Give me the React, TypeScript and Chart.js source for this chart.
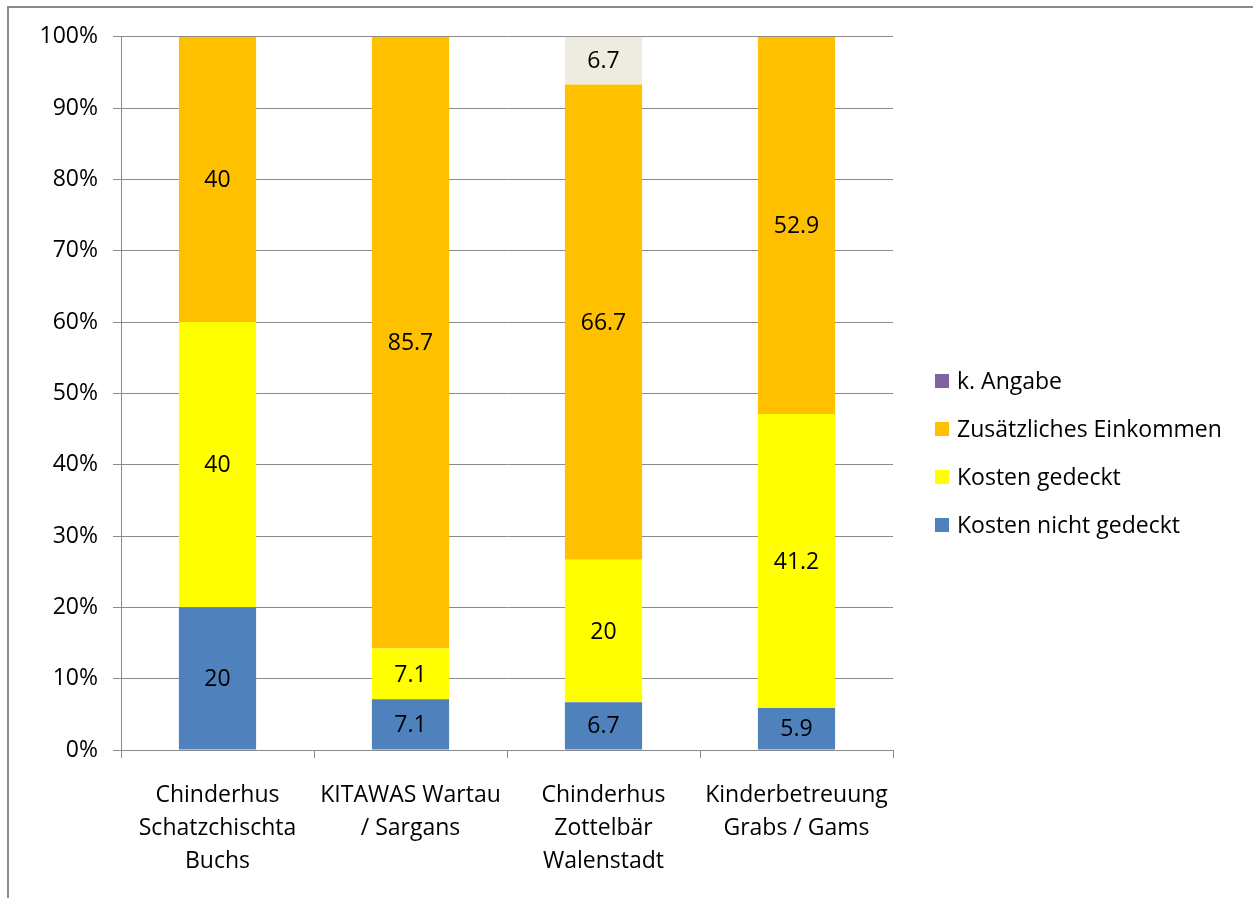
import React, { useEffect, useRef } from "react";
import { Chart, registerables } from "chart.js";

Chart.register(...registerables);

const categories: string[][] = [
  ["Chinderhus", "Schatzchischta", "Buchs"],
  ["KITAWAS Wartau", "/ Sargans"],
  ["Chinderhus", "Zottelbär", "Walenstadt"],
  ["Kinderbetreuung", "Grabs / Gams"],
];

const kostenNichtGedeckt = [20, 7.1, 6.7, 5.9];
const kostenGedeckt = [40, 7.1, 20, 41.2];
const zusaetzlichesEinkommen = [40, 85.7, 66.7, 52.9];
const keineAngabe = [0, 0, 6.7, 0];

const yTicks = [0, 10, 20, 30, 40, 50, 60, 70, 80, 90, 100];

const FONT = "'Open Sans', sans-serif";
const FS = 23;
const GRAY = "#8a8a8a";

const seriesRaw = [
  { label: "Kosten nicht gedeckt", data: kostenNichtGedeckt, color: "#4F81BD", legend: "#4F81BD" },
  { label: "Kosten gedeckt", data: kostenGedeckt, color: "#FFFF00", legend: "#FFFF00" },
  { label: "Zusätzliches Einkommen", data: zusaetzlichesEinkommen, color: "#FFC000", legend: "#FFC000" },
  { label: "k. Angabe", data: keineAngabe, color: "#EEECE1", legend: "#8064A2" },
];

const totals = categories.map((_, i) => seriesRaw.reduce((s, d) => s + d.data[i], 0));

const labelPlugin = {
  id: "segLabels",
  afterDatasetsDraw(chart: any) {
    const ctx = chart.ctx;
    ctx.save();
    ctx.font = `${FS}px ${FONT}`;
    ctx.fillStyle = "#000";
    ctx.textAlign = "center";
    ctx.textBaseline = "middle";
    chart.data.datasets.forEach((ds: any, di: number) => {
      const meta = chart.getDatasetMeta(di);
      meta.data.forEach((el: any, i: number) => {
        const v = ds.rawValues[i];
        if (!v) return;
        ctx.fillText(String(v), el.x, (el.y + el.base) / 2 + 1);
      });
    });
    ctx.restore();
  },
};

const legendPlugin = {
  id: "customLegend",
  afterDraw(chart: any) {
    const ctx = chart.ctx;
    const items = [...seriesRaw].reverse();
    const x0 = chart.chartArea.right + 42;
    const spacing = 48;
    const cy = chart.height / 2 + 5;
    const startY = cy - (spacing * (items.length - 1)) / 2;
    ctx.save();
    ctx.font = `${FS}px ${FONT}`;
    ctx.textAlign = "left";
    ctx.textBaseline = "middle";
    items.forEach((it, k) => {
      const y = startY + k * spacing;
      ctx.fillStyle = it.legend;
      ctx.fillRect(x0, y - 7, 14, 14);
      ctx.fillStyle = "#000";
      ctx.fillText(it.label, x0 + 22, y + 1);
    });
    ctx.restore();
  },
};

export default function App() {
  const ref = useRef<HTMLCanvasElement>(null);
  useEffect(() => {
    if (!ref.current) return;
    const chart = new Chart(ref.current, {
      type: "bar",
      data: {
        labels: categories,
        datasets: seriesRaw.map((s) => ({
          label: s.label,
          data: s.data.map((v, i) => (v / totals[i]) * 100),
          rawValues: s.data,
          backgroundColor: s.color,
          borderWidth: 0,
          barPercentage: 0.4,
          categoryPercentage: 1,
        })) as any,
      },
      options: {
        animation: false,
        responsive: true,
        maintainAspectRatio: false,
        layout: { padding: { top: 27, right: 360, left: 0, bottom: 0 } },
        plugins: { legend: { display: false }, tooltip: { enabled: false } },
        scales: {
          x: {
            stacked: true,
            grid: { display: true, drawOnChartArea: false, drawTicks: true, tickLength: 8, color: GRAY, offset: true },
            border: { display: true, color: GRAY, width: 1 },
            ticks: { font: { family: FONT, size: FS, lineHeight: 33 / FS }, color: "#000", padding: 21, maxRotation: 0, autoSkip: false },
            afterFit: (s: any) => { s.height = 138; },
          },
          y: {
            stacked: true,
            min: 0,
            max: 100,
            afterBuildTicks: (s: any) => { s.ticks = yTicks.map((v) => ({ value: v })); },
            grid: { color: GRAY, tickLength: 8, drawTicks: true },
            border: { display: true, color: GRAY, width: 1 },
            ticks: { font: { family: FONT, size: FS }, color: "#000", padding: 15, callback: (v: any) => `${v}%` },
            afterFit: (s: any) => { s.width = 113; },
          },
        },
      },
      plugins: [labelPlugin, legendPlugin],
    });
    return () => chart.destroy();
  }, []);
  return (
    <>
      <div style={{ position: "fixed", left: 7, top: 6, width: 1400, height: 1100, border: `2px solid ${GRAY}`, pointerEvents: "none" }} />
      <div style={{ position: "relative", width: 1245, height: 880 }}>
        <canvas ref={ref} />
      </div>
    </>
  );
}
